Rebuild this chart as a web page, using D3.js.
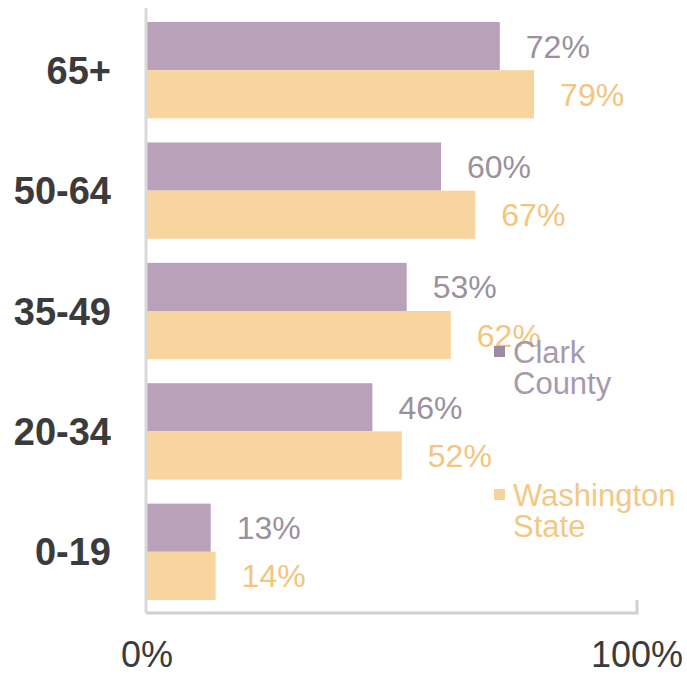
<!DOCTYPE html>
<html lang="en">
<head>
<meta charset="UTF-8">
<title>Age groups</title>
<script src="https://d3js.org/d3.v7.min.js"></script>
<style>
  body { margin: 0; background: #fff; }
  text { font-family: "Liberation Sans", Arial, sans-serif; }
</style>
</head>
<body>
<svg width="687" height="675"></svg>
<script>
// data
var ageGroups = ["65+", "50-64", "35-49", "20-34", "0-19"];
var clarkCounty = [72, 60, 53, 46, 13];
var washingtonState = [79, 67, 62, 52, 14];
var seriesNames = ["Clark County", "Washington State"];
var xTicks = [0, 100];

var svg = d3.select("svg");

var x = d3.scaleLinear().domain([0, 100]).range([147, 637]);
var y = d3.scaleBand().domain(ageGroups).range([10, 612])
    .paddingInner(0.2).paddingOuter(0.1);
var ySub = d3.scaleBand().domain(seriesNames).range([0, y.bandwidth()]);

var barColor = { "Clark County": "#b9a2b9", "Washington State": "#f8d59e" };
var labelColor = { "Clark County": "#9b919d", "Washington State": "#f3c57e" };

var rows = ageGroups.map(function (g, i) {
    return { group: g, values: [
        { name: seriesNames[0], v: clarkCounty[i] },
        { name: seriesNames[1], v: washingtonState[i] }
    ] };
});

// bars
var groups = svg.selectAll("g.row")
    .data(rows)
    .enter().append("g")
    .attr("class", "row")
    .attr("transform", function (d) { return "translate(0," + y(d.group) + ")"; });

groups.selectAll("rect")
    .data(function (d) { return d.values; })
    .enter().append("rect")
    .attr("x", x(0))
    .attr("y", function (d) { return ySub(d.name); })
    .attr("width", function (d) { return x(d.v) - x(0); })
    .attr("height", ySub.bandwidth())
    .attr("fill", function (d) { return barColor[d.name]; });

// value labels
groups.selectAll("text.val")
    .data(function (d) { return d.values; })
    .enter().append("text")
    .attr("class", "val")
    .attr("x", function (d) { return x(d.v) + 26; })
    .attr("y", function (d) { return ySub(d.name) + ySub.bandwidth() / 2; })
    .attr("dy", "0.36em")
    .attr("font-size", "32px")
    .attr("fill", function (d) { return labelColor[d.name]; })
    .text(function (d) { return d.v + "%"; });

// category labels
svg.selectAll("text.cat")
    .data(ageGroups)
    .enter().append("text")
    .attr("class", "cat")
    .attr("x", 111)
    .attr("y", function (d) { return y(d) + y.bandwidth() / 2; })
    .attr("dy", "0.36em")
    .attr("text-anchor", "end")
    .attr("font-size", "38px")
    .attr("font-weight", "bold")
    .attr("fill", "#3b3b3b")
    .text(function (d) { return d; });

// axes lines
svg.append("line")
    .attr("x1", x(0) - 1).attr("x2", x(0) - 1)
    .attr("y1", 8).attr("y2", 613)
    .attr("stroke", "#d9d9d9").attr("stroke-width", 3);

svg.append("path")
    .attr("d", "M" + (x(0) - 1) + ",613H" + x(100) + "V600")
    .attr("fill", "none")
    .attr("stroke", "#cfcfcf").attr("stroke-width", 3);

// x tick labels
svg.selectAll("text.tick")
    .data(xTicks)
    .enter().append("text")
    .attr("class", "tick")
    .attr("x", function (d) { return x(d); })
    .attr("y", 667)
    .attr("text-anchor", "middle")
    .attr("font-size", "36px")
    .attr("fill", "#3b3b3b")
    .text(function (d) { return d + "%"; });

// legend
var legend = [
    { name: seriesNames[0], lines: ["Clark", "County"], y: 352, sq: "#9e8aa4" },
    { name: seriesNames[1], lines: ["Washington", "State"], y: 495, sq: "#f6d39a" }
];
var lg = svg.selectAll("g.legend")
    .data(legend)
    .enter().append("g")
    .attr("class", "legend")
    .attr("transform", function (d) { return "translate(494," + d.y + ")"; });

lg.append("rect")
    .attr("x", 0).attr("y", -6)
    .attr("width", 11).attr("height", 11)
    .attr("fill", function (d) { return d.sq; });

lg.append("text")
    .attr("x", 19)
    .attr("font-size", "31px")
    .attr("fill", function (d) { return d.name == seriesNames[0] ? "#a89aab" : "#f4c784"; })
    .selectAll("tspan")
    .data(function (d) { return d.lines; })
    .enter().append("tspan")
    .attr("x", 19)
    .attr("dy", function (d, i) { return i == 0 ? "0.36em" : "1.0em"; })
    .text(function (d) { return d; });
</script>
</body>
</html>
